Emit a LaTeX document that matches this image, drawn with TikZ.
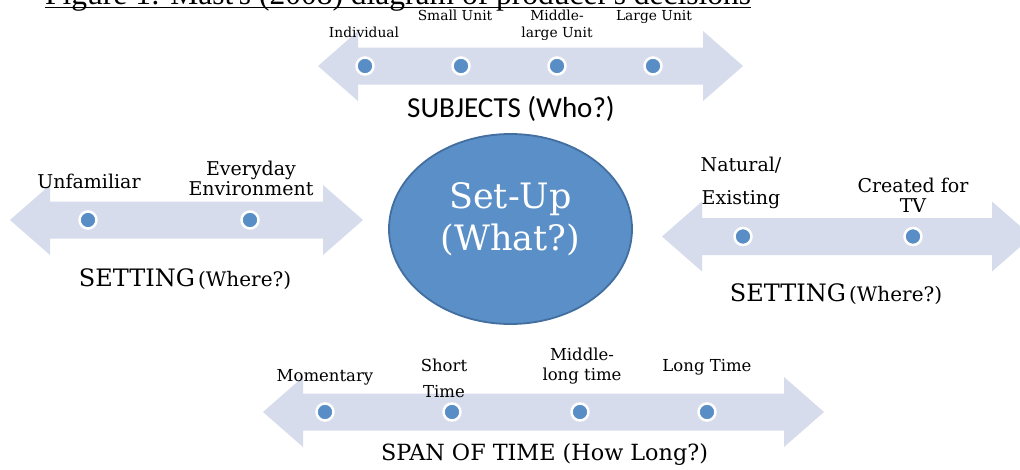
\documentclass[tikz,border=0pt]{standalone}
\usepackage{fontspec}
\setmainfont{DejaVu Serif}
\newfontfamily\calfont{Carlito}
\newfontfamily\capfont{Liberation Serif}
\usetikzlibrary{shapes.geometric}
\definecolor{BandBlue}{RGB}{214,220,235}
\definecolor{DotBlue}{RGB}{88,141,198}
\definecolor{HubBlue}{RGB}{91,143,199}
\definecolor{HubEdge}{RGB}{66,110,160}

% double-headed band: left tip x, right tip x, centre y
\newcommand{\bandarrow}[3]{%
  \fill[band] (#1,#3) -- ++(40,-35) -- ++(0,16.5) -- ({#2-40},{#3-18.5}) -- ++(0,-16.5)
    -- (#2,#3) -- ({#2-40},{#3+35}) -- ++(0,-16.5) -- ({#1+40},{#3+18.5}) -- ++(0,16.5) -- cycle;}

\begin{document}
\begin{tikzpicture}[x=1pt, y=-1pt,
  band/.style={fill=BandBlue},
  dot/.style={circle, fill=DotBlue, draw=white, line width=2.5pt, minimum size=17pt, inner sep=0pt},
  hub/.style={ellipse, fill=HubBlue, draw=HubEdge, line width=1.8pt, minimum width=243pt,
              minimum height=190pt, text=white, align=center, font=\fontsize{35}{42}\selectfont},
  smalllab/.style={anchor=base, inner sep=0pt, align=center, font=\fontsize{13.8}{16.5}\selectfont},
  midlab/.style={anchor=base, inner sep=0pt, align=center, font=\fontsize{16.5}{20}\selectfont},
  sidelab/.style={anchor=base, inner sep=0pt, align=center, font=\fontsize{19}{20}\selectfont},
  axislab/.style={anchor=base, inner sep=0pt},
  caption/.style={anchor=base west, inner sep=0pt, font=\capfont\fontsize{31.5}{36}\selectfont},
]
\clip (0,0) rectangle (1020,469);
\fill[white] (0,0) rectangle (1020,469);

% caption (cut off at the top)
\node[caption] (cap) at (45,4) {Figure 1: Mast's (2008) diagram of producer's decisions};
\draw[line width=1.5pt] ([yshift=-3.6pt]cap.base west) -- ([yshift=-3.6pt]cap.base east);

% the four bands
\bandarrow{318}{743}{66}
\bandarrow{10}{363}{220}
\bandarrow{662}{1032}{236.5}
\bandarrow{263}{824}{412}

% centre
\node[hub] (setup) at (510.5,229) {Set-Up\\(What?)\rule[-25pt]{0pt}{25pt}};

% subjects (base = last line)
\foreach \x [count=\i] in {365,461,557,653}
  \node[dot] (subj\i) at (\x,66) {};
\node[smalllab] (indiv) at (364,37) {Individual};
\node[smalllab] (small) at (455,20.5) {Small Unit};
\node[smalllab] (midlarge) at (557,37) {Middle-\\large Unit};
\node[smalllab] (large) at (654,20.5) {Large Unit};
\node[axislab, font=\calfont\fontsize{29}{34}\selectfont] (subj) at (511,117) {SUBJECTS (Who?)};

% setting, left
\foreach \x [count=\i] in {88,250}
  \node[dot] (setl\i) at (\x,220) {};
\node[sidelab] (unfam) at (89,188) {Unfamiliar};
\node[sidelab] (everyday) at (251,195) {Everyday\\Environment};
\node[axislab] (settl) at (185,286) {{\fontsize{24}{28}\selectfont SETTING} {\fontsize{20}{24}\selectfont (Where?)}};

% setting, right
\foreach \x [count=\i] in {743,913}
  \node[dot] (setr\i) at (\x,236.5) {};
\node[sidelab] (natural) at (741,204) {Natural/\\[13pt]Existing};
\node[sidelab] (created) at (913,212.5) {Created for\\TV};
\node[axislab] (settr) at (836,301.5) {{\fontsize{24}{28}\selectfont SETTING} {\fontsize{20}{24}\selectfont (Where?)}};

% span of time
\foreach \x [count=\i] in {325,452,580,707}
  \node[dot] (span\i) at (\x,412) {};
\node[midlab] (moment) at (325,381.5) {Momentary};
\node[midlab] (short) at (444,397.3) {Short\\[5.7pt]Time};
\node[midlab] (midlong) at (582,380.5) {Middle-\\long time};
\node[midlab] (long) at (707,371.5) {Long Time};
\node[axislab, font=\fontsize{22.3}{26}\selectfont] (span) at (544.5,460) {SPAN OF TIME (How Long?)};
\end{tikzpicture}
\end{document}
